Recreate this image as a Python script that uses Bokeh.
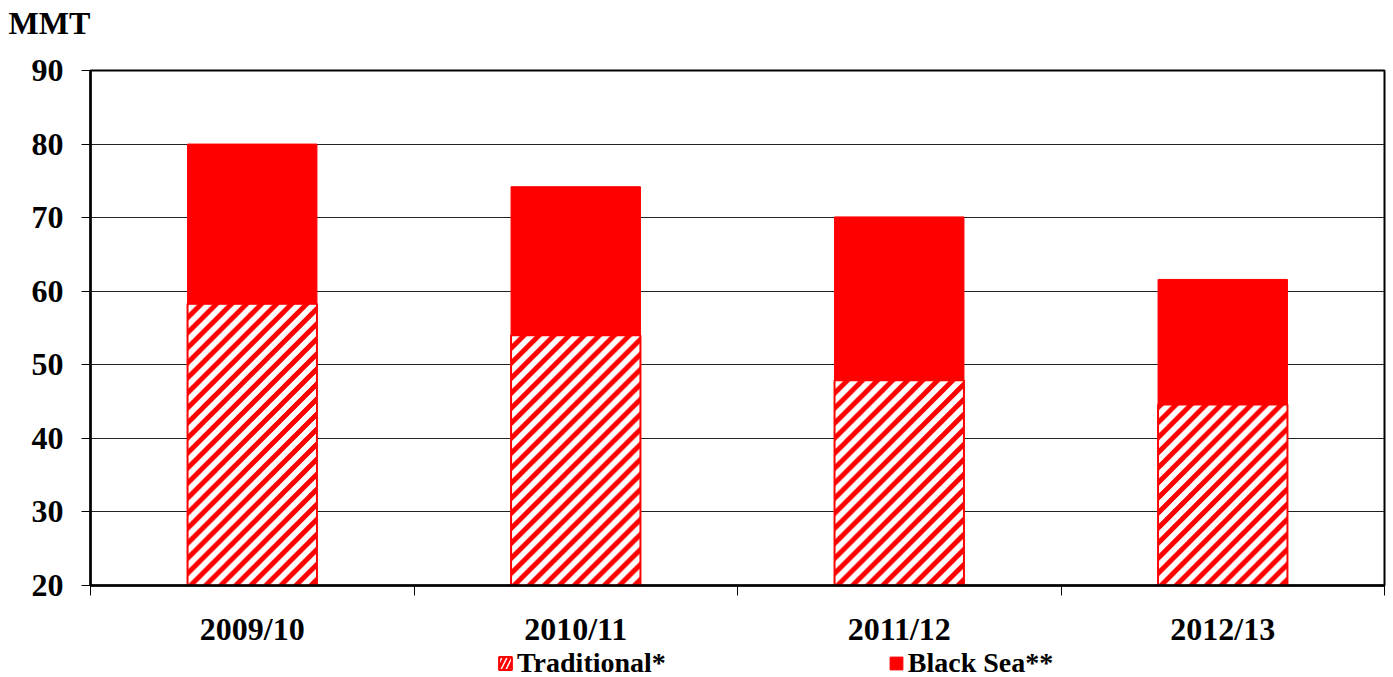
import numpy as np
from bokeh.plotting import figure
from bokeh.layouts import column
from bokeh.models import ColumnDataSource, Range1d, FixedTicker, Legend, LegendItem, Title
from bokeh.core.properties import value
from bokeh.embed import file_html
from bokeh.resources import INLINE

seasons = ["2009/10", "2010/11", "2011/12", "2012/13"]
traditional = [58.3, 54.0, 47.9, 44.6]
black_sea = [21.7, 20.2, 22.2, 17.0]
y_ticks = [20, 30, 40, 50, 60, 70, 80, 90]
unit_label = "MMT"

FONT = "Liberation Serif"
Y0, Y1 = 20, 90
BAR_W = 0.4
FW, FH = 1294, 515            # plot frame size in px
x_pos = [i + 0.5 for i in range(len(seasons))]
totals = [a + b for a, b in zip(traditional, black_sea)]
x_range = Range1d(0, len(seasons))

# ---------- top strip: unit label ----------
p0 = figure(output_backend="svg", toolbar_location=None, frame_width=FW, frame_height=1,
            x_range=x_range, y_range=Range1d(0, 1),
            x_axis_location=None, y_axis_location=None,
            min_border_left=90, min_border_right=6, min_border_top=39, min_border_bottom=0)
p0.outline_line_color = None
p0.xgrid.visible = False
p0.ygrid.visible = False
p0.add_layout(Title(text=unit_label, align="left", offset=-82, vertical_align="bottom",
                    standoff=4, text_font=FONT, text_font_style="bold",
                    text_font_size="32px", text_color="black"), "above")

# ---------- main chart ----------
src = ColumnDataSource(dict(x=x_pos, trad=traditional, total=totals, zero=[0] * len(seasons)))

p = figure(output_backend="svg", toolbar_location=None,
           frame_width=FW, frame_height=FH, x_range=x_range, y_range=Range1d(Y0, Y1),
           min_border_left=90, min_border_right=6, min_border_top=27, min_border_bottom=30)
p.background_fill_color = "white"
p.border_fill_color = "white"
p.outline_line_color = "black"
p.outline_line_width = 2

# striped texture for the "Traditional" bars (45 degree red/white stripes)
px_x = FW / (len(seasons))
px_y = FH / (Y1 - Y0)
imgs, dhs = [], []
for t in traditional:
    w = int(round(BAR_W * px_x))
    h = int(round((t - Y0) * px_y))
    cc, rr = np.meshgrid(np.arange(w), np.arange(h))
    red = ((cc - rr) % 15) < 7
    img = np.empty((h, w), dtype=np.uint32)
    v = img.view(dtype=np.uint8).reshape((h, w, 4))
    v[..., 0] = 255
    v[..., 1] = np.where(red, 0, 255)
    v[..., 2] = np.where(red, 0, 255)
    v[..., 3] = 255
    imgs.append(img)
    dhs.append(t - Y0)
p.image_rgba(image=imgs, x=[x - BAR_W / 2 for x in x_pos], y=[Y0] * len(seasons),
             dw=[BAR_W] * len(seasons), dh=dhs)

p.vbar(x="x", top="trad", bottom="zero", width=BAR_W, source=src,
       fill_color=None, line_color="red", line_width=2)
p.vbar(x="x", top="total", bottom="trad", width=BAR_W, source=src,
       fill_color="red", line_color="red", line_width=1)

xa = p.xaxis[0]
xa.ticker = FixedTicker(ticks=[], minor_ticks=list(range(len(seasons) + 1)))
xa.major_tick_out = 0
xa.major_tick_in = 0
xa.minor_tick_out = 10
xa.minor_tick_in = 0
xa.minor_tick_line_color = "black"
xa.axis_line_color = "black"
xa.axis_line_width = 2.5

ya = p.yaxis[0]
ya.ticker = FixedTicker(ticks=y_ticks)
ya.major_tick_out = 9
ya.major_tick_in = 0
ya.minor_tick_line_color = None
ya.axis_line_color = "black"
ya.axis_line_width = 2.5
ya.major_tick_line_color = "black"
ya.major_label_text_font = FONT
ya.major_label_text_font_style = "bold"
ya.major_label_text_font_size = "32px"
ya.major_label_text_color = "black"
ya.major_label_standoff = 18

p.xgrid.grid_line_color = None
p.ygrid.grid_line_color = "#222222"
p.ygrid.grid_line_width = 1

# ---------- bottom strip: category labels and legend ----------
p2 = figure(output_backend="svg", toolbar_location=None, frame_width=FW, frame_height=64,
            x_range=x_range, y_range=Range1d(100, 164),
            x_axis_location=None, y_axis_location=None,
            min_border_left=90, min_border_right=6, min_border_top=0, min_border_bottom=0)
p2.outline_line_color = None
p2.xgrid.visible = False
p2.ygrid.visible = False
p2.text(x=x_pos, y=[151] * len(seasons), text=seasons, text_font=value(FONT),
        text_font_style="bold", text_font_size="32px", text_color="black",
        text_baseline="alphabetic", text_align="center")

# legend proxies (same data, lying below this strip's visible range)
lg_trad = p2.vbar(x="x", top="trad", bottom="zero", width=BAR_W, source=src,
                  fill_color="white", line_color="red", line_width=2,
                  hatch_pattern="/", hatch_color="red", hatch_scale=10, hatch_weight=3)
lg_bs = p2.vbar(x="x", top="total", bottom="trad", width=BAR_W, source=src,
                fill_color="red", line_color="red")

legend = Legend(items=[LegendItem(label="Traditional*", renderers=[lg_trad]),
                       LegendItem(label="Black Sea**", renderers=[lg_bs])],
                orientation="horizontal", location=(407, 0),
                label_text_font=FONT, label_text_font_style="bold",
                label_text_font_size="28px", label_text_color="black",
                glyph_width=16, glyph_height=16, label_standoff=4, spacing=222,
                padding=0, margin=0, border_line_color=None, background_fill_alpha=0)
p2.add_layout(legend, "center")

layout = column(p0, p, p2, spacing=0)
open("out.html", "w").write(file_html(layout, INLINE))
